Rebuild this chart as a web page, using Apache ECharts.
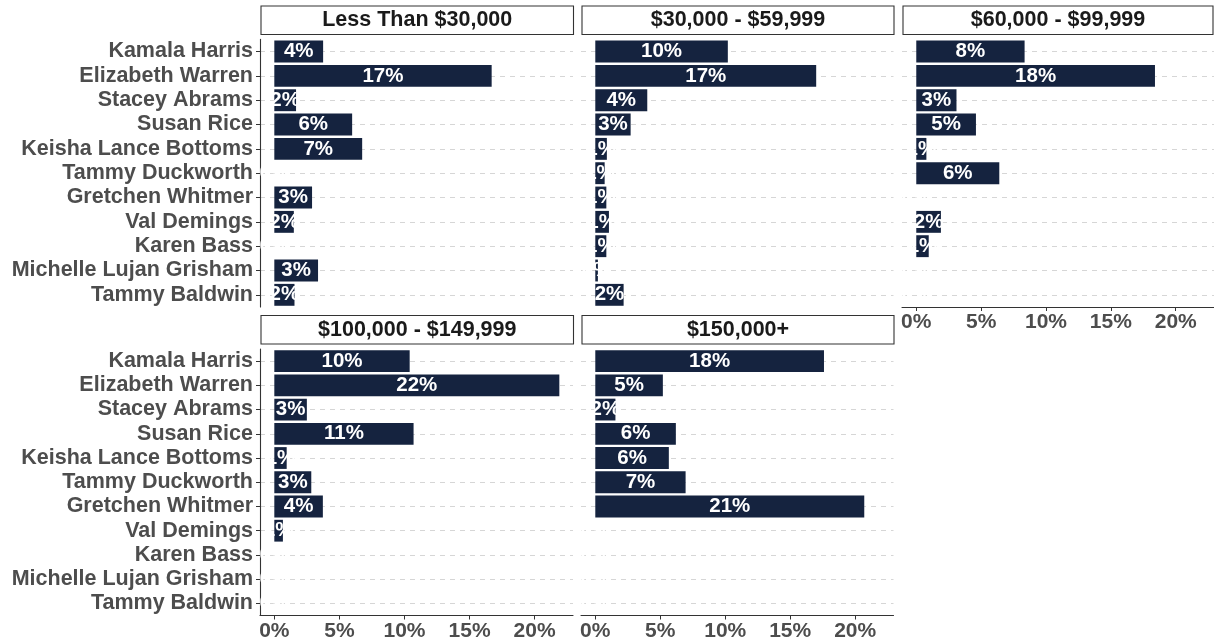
<!DOCTYPE html>
<html>
<head>
<meta charset="utf-8">
<script src="https://cdn.jsdelivr.net/npm/echarts@6/dist/echarts.min.js"></script>
<style>
  html, body { margin: 0; padding: 0; background: #fff; }
  #chart { width: 1214px; height: 644px; }
</style>
</head>
<body>
<div id="chart"></div>
<script>
// 候选人 (从上到下)
const candidates = [
  'Kamala Harris', 'Elizabeth Warren', 'Stacey Abrams', 'Susan Rice',
  'Keisha Lance Bottoms', 'Tammy Duckworth', 'Gretchen Whitmer', 'Val Demings',
  'Karen Bass', 'Michelle Lujan Grisham', 'Tammy Baldwin'
]

// 各收入段的支持率 (%)
const panelTitles = ['Less Than $30,000', '$30,000 - $59,999', '$60,000 - $99,999', '$100,000 - $149,999', '$150,000+']
const lessThan30k = [3.75, 16.7, 1.67, 5.98, 6.75, 0, 2.9, 1.5, 0, 3.36, 1.55]
const from30kTo60k = [10.2, 17.0, 4.0, 2.72, 0.89, 0.72, 0.85, 1.05, 0.85, 0.2, 2.18]
const from60kTo100k = [8.35, 18.4, 3.1, 4.6, 0.78, 6.4, 0, 1.9, 0.96, 0, 0]
const from100kTo150k = [10.4, 21.9, 2.5, 10.7, 0.95, 2.84, 3.73, 0.66, 0, 0, 0]
const over150k = [17.6, 5.2, 1.55, 6.2, 5.66, 6.95, 20.7, 0, 0, 0, 0]
const panelData = [lessThan30k, from30kTo60k, from60kTo100k, from100kTo150k, over150k]

// x 轴刻度
const xTicks = [0, 5, 10, 15, 20]

const FONT = '"Liberation Sans", Arial, sans-serif'
const BAR_COLOR = '#15233f'

// 面板位置
const cols = [
  { left: 260, width: 313 },
  { left: 581, width: 312.5 },
  { left: 902, width: 312 }
]
const rows = [
  { top: 39.4, height: 267.6, stripTop: 6 },
  { top: 349, height: 266.5, stripTop: 315.5 }
]

const chart = echarts.init(document.getElementById('chart'))

const grids = []
const xAxes = []
const yAxes = []
const series = []
const graphics = []

panelData.forEach((values, i) => {
  const col = i % 3
  const row = Math.floor(i / 3)
  const c = cols[col]
  const r = rows[row]
  const showY = col === 0
  const showX = i >= 2

  grids.push({ left: c.left, top: r.top, width: c.width, height: r.height })

  xAxes.push({
    gridIndex: i,
    type: 'value',
    min: -1.1,
    max: 22.95,
    splitLine: { show: false },
    axisLine: { show: showX, onZero: false, lineStyle: { color: '#333', width: 1.1 } },
    axisTick: { show: showX, customValues: xTicks, length: 4, lineStyle: { color: '#333' } },
    axisLabel: {
      show: showX,
      customValues: xTicks,
      formatter: v => v + '%',
      color: '#4d4d4d',
      fontWeight: 'bold',
      fontSize: 21,
      fontFamily: FONT,
      margin: 5
    }
  })

  yAxes.push({
    gridIndex: i,
    type: 'category',
    data: candidates,
    inverse: true,
    axisLine: { show: showY, onZero: false, lineStyle: { color: '#333', width: 1.1 } },
    axisTick: { show: showY, interval: 0, alignWithLabel: true, length: 4, lineStyle: { color: '#333' } },
    axisLabel: {
      show: showY,
      interval: 0,
      color: '#4d4d4d',
      fontWeight: 'bold',
      fontSize: 21.5,
      fontFamily: FONT,
      margin: 7
    },
    splitLine: {
      show: true,
      interval: 0,
      alignWithLabel: true,
      lineStyle: { color: '#d6d6d6', type: [5, 5], width: 1 }
    }
  })

  series.push({
    type: 'bar',
    name: panelTitles[i],
    xAxisIndex: i,
    yAxisIndex: i,
    data: values,
    barCategoryGap: '10%',
    itemStyle: { color: BAR_COLOR },
    label: {
      show: true,
      position: 'inside',
      formatter: p => Math.round(p.value) + '%',
      color: '#fff',
      fontWeight: 'bold',
      fontSize: 20.5,
      fontFamily: FONT
    }
  })

  // 分面标题框
  const stripX = c.left + 1
  const stripW = Math.min(c.width - 0.5, 1213 - stripX)
  graphics.push({
    type: 'rect',
    shape: { x: stripX, y: r.stripTop, width: stripW, height: 28.5 },
    style: { fill: '#fff', stroke: '#333', lineWidth: 1.1 }
  })
  graphics.push({
    type: 'text',
    x: stripX + stripW / 2,
    y: r.stripTop + 14.5,
    style: {
      text: panelTitles[i],
      align: 'center',
      verticalAlign: 'middle',
      fontSize: 21.5,
      fontWeight: 'bold',
      fontFamily: FONT,
      fill: '#1a1a1a'
    }
  })
})

chart.setOption({
  animation: false,
  backgroundColor: '#fff',
  grid: grids,
  xAxis: xAxes,
  yAxis: yAxes,
  series: series,
  graphic: graphics
})
</script>
</body>
</html>
